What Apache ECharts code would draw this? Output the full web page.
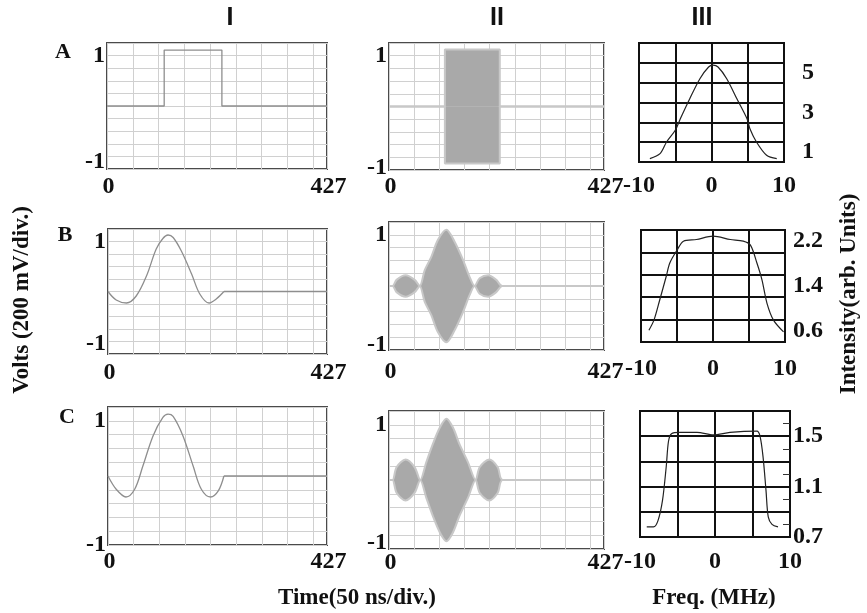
<!DOCTYPE html>
<html>
<head>
<meta charset="utf-8">
<script src="https://cdn.jsdelivr.net/npm/echarts@6/dist/echarts.min.js"></script>
<style>
  html, body { margin: 0; padding: 0; background: #fff; }
  #chart { width: 867px; height: 613px; }
</style>
</head>
<body>
<div id="chart"></div>
<script>
// tick labels
const timeTicks = [0, 427];
const voltTicks = [-1, 1];
const freqTicks = [-10, 0, 10];
const intensATicks = [1, 3, 5];
const intensBTicks = [0.6, 1.4, 2.2];
const intensCTicks = [0.7, 1.1, 1.5];

// column I: baseband pulses (sample index, volts)
const rectT = [0, 111, 111, 223, 223, 427];
const rectV = [0, 0, 1.11, 1.11, 0, 0];
const sincBT = [0, 16, 36, 55, 75, 94, 107, 117, 127, 143, 163, 179, 197, 211, 226];
const sincBV = [0, -0.17, -0.23, -0.09, 0.31, 0.85, 1.06, 1.13, 1.08, 0.81, 0.35, -0.05, -0.23, -0.15, 0];
const sincCT = [0, 16, 35, 52, 68, 88, 107, 117, 127, 146, 166, 182, 200, 215, 226];
const sincCV = [0, -0.24, -0.38, -0.24, 0.18, 0.73, 1.06, 1.12, 1.08, 0.73, 0.18, -0.24, -0.38, -0.27, 0];
// flat line after the pulse
const tailT = [226, 427];
const tailV = [0, 0];

// column II: modulated carrier, envelope (sample index, volts)
const envAT = [0, 111, 111, 220, 220, 427];
const envAV = [0, 0, 1.12, 1.12, 0, 0];
const envBT = [0, 7, 15, 33, 51, 61, 71, 84, 97, 114, 130, 147, 160, 170, 180, 197, 213, 225, 427];
const envBV = [0, 0, 0.12, 0.21, 0.12, 0, 0.31, 0.57, 0.9, 1.1, 0.87, 0.51, 0.18, 0, 0.15, 0.21, 0.12, 0, 0];
const envCT = [0, 7, 15, 33, 51, 62, 74, 87, 101, 114, 127, 140, 157, 172, 180, 199, 216, 226, 427];
const envCV = [0, 0, 0.23, 0.37, 0.23, 0, 0.32, 0.65, 0.95, 1.11, 0.95, 0.65, 0.32, 0, 0.23, 0.37, 0.23, 0, 0];

// column III: spectra (MHz, arb. units)
const specAF = [-8.5, -7.1, -6.2, -5.0, -4.3, -3.0, -1.6, -0.4, 0.2, 0.9, 2.1, 3.5, 4.9, 5.3, 6.2, 7.6, 9.0];
const specAI = [0.67, 0.92, 1.51, 2.1, 2.68, 3.69, 4.7, 5.29, 5.38, 5.29, 4.7, 3.69, 2.68, 2.18, 1.51, 0.84, 0.67];
const specBF = [-8.9, -8.2, -7.4, -6.5, -6.0, -5.0, -4.1, -2.3, 0, 2.4, 4.2, 5.2, 6.1, 6.8, 7.5, 8.4, 9.8];
const specBI = [0.61, 0.79, 1.15, 1.57, 1.81, 2.04, 2.2, 2.23, 2.29, 2.23, 2.2, 2.13, 1.81, 1.51, 1.09, 0.79, 0.58];
const specCF = [-9.1, -8.2, -7.6, -7.0, -6.5, -6.2, -5.8, -4.7, -2.4, -0.2, 2.0, 5.6, 6.0, 6.4, 6.8, 7.1, 7.6, 8.4];
const specCI = [0.78, 0.78, 0.83, 0.99, 1.26, 1.46, 1.52, 1.53, 1.53, 1.51, 1.53, 1.54, 1.5, 1.34, 1.07, 0.86, 0.8, 0.78];

const zip = (xs, ys, k = 1) => xs.map((x, i) => [x, ys[i] * k]);

const serif = '"Liberation Serif", "Times New Roman", serif';
const tickFont = { fontFamily: serif, fontWeight: 'bold', fontSize: 24, color: '#111' };

const grids = [], xAxes = [], yAxes = [], series = [];

function lineSeries(g, data, smooth, color, width) {
  series.push({ type: 'line', xAxisIndex: g, yAxisIndex: g, data: data, smooth: smooth,
    showSymbol: false, silent: true, lineStyle: { color: color, width: width } });
}

// lowShift pushes the "-1" label down a few px, as in the scanned figure
function timePanel(box, xMargin, lowShift, lines, env) {
  const g = grids.length;
  grids.push({ left: box[0], top: box[1], width: box[2], height: box[3],
    show: true, borderColor: '#4a4a4a', borderWidth: 2, backgroundColor: '#fff' });
  xAxes.push({ type: 'value', gridIndex: g, min: 0, max: 427, interval: 50,
    axisLine: { show: false }, axisTick: { show: false },
    splitLine: { show: true, lineStyle: { color: '#d0d0d0', width: 1 } },
    axisLabel: Object.assign({ customValues: timeTicks, margin: xMargin, padding: [0, 0, 0, 3] }, tickFont) });
  yAxes.push({ type: 'value', gridIndex: g, min: -1.25, max: 1.25, interval: 0.25,
    axisLine: { show: false }, axisTick: { show: false },
    splitLine: { show: true, lineStyle: { color: '#d0d0d0', width: 1 } },
    axisLabel: Object.assign({ customValues: voltTicks, margin: 2,
      formatter: v => v < 0 ? '{lo|' + v + '}' : String(v),
      rich: { lo: Object.assign({ padding: [lowShift * 2, 0, 0, 0] }, tickFont) } }, tickFont) });
  (lines || []).forEach(l => lineSeries(g, l.data, l.smooth, '#8e8e8e', 1.3));
  if (env) {
    [1, -1].forEach(sign => {
      series.push({ type: 'line', xAxisIndex: g, yAxisIndex: g, data: zip(env[0], env[1], sign),
        smooth: 0.3, showSymbol: false, silent: true,
        lineStyle: { color: '#c8c8c8', width: 2 },
        areaStyle: { color: '#a9a9a9', opacity: 1 } });
    });
  }
}

function freqPanel(box, xMargin, y, data) {
  const g = grids.length;
  grids.push({ left: box[0], top: box[1], width: box[2], height: box[3],
    show: true, borderColor: '#111', borderWidth: 2, backgroundColor: '#fff' });
  xAxes.push({ type: 'value', gridIndex: g, min: -10, max: 10, interval: 5,
    axisLine: { show: false }, axisTick: { show: false },
    splitLine: { show: true, lineStyle: { color: '#111', width: 2 } },
    axisLabel: Object.assign({ customValues: freqTicks, margin: xMargin }, tickFont) });
  yAxes.push({ type: 'value', gridIndex: g, position: 'right', min: y.min, max: y.max, interval: y.interval,
    axisLine: { show: false, onZero: false },
    axisTick: { show: !!y.minor, inside: true, length: 0 },
    minorTick: { show: !!y.minor, splitNumber: 2, length: 7, lineStyle: { color: '#333', width: 1 } },
    splitLine: { show: true, lineStyle: { color: '#111', width: 2 } },
    axisLabel: Object.assign({ customValues: y.ticks, margin: y.margin }, tickFont) });
  lineSeries(g, data, 0.3, '#222', 1.2);
}

// row A
timePanel([107, 43, 220, 126], 6, 5, [{ data: zip(rectT, rectV), smooth: false }]);
timePanel([389, 43, 215, 127], 5, 10, null, [envAT, envAV]);
freqPanel([639, 43, 145, 119], 12, { min: 0.5, max: 6.5, interval: 1, ticks: intensATicks, margin: 18 },
  zip(specAF, specAI));
// row B
timePanel([108, 229, 219, 125], 7, 2,
  [{ data: zip(sincBT, sincBV), smooth: 0.35 }, { data: zip(tailT, tailV), smooth: false }]);
timePanel([389, 222, 215, 128], 10, 8, null, [envBT, envBV]);
freqPanel([641, 230, 144, 112], 15, { min: 0.4, max: 2.4, interval: 0.4, ticks: intensBTicks, margin: 8 },
  zip(specBF, specBI));
// row C
timePanel([108, 407, 219, 138], 5, 14,
  [{ data: zip(sincCT, sincCV), smooth: 0.35 }, { data: zip(tailT, tailV), smooth: false }]);
timePanel([389, 411, 215, 138], 2, 8, null, [envCT, envCV]);
freqPanel([640, 411, 150, 126], 13, { min: 0.7, max: 1.7, interval: 0.2, ticks: intensCTicks, margin: 3, minor: true },
  zip(specCF, specCI));

function txt(text, x, y, font, rotation) {
  return { type: 'text', x: x, y: y, rotation: rotation || 0, silent: true,
    style: { text: text, x: 0, y: 0, font: font, fill: '#111', align: 'center', verticalAlign: 'middle' } };
}
const headFont = 'bold 25px "Liberation Sans", Arial, sans-serif';
const rowFont = 'bold 22px ' + serif;
const titleFont = 'bold 23px ' + serif;

const chart = echarts.init(document.getElementById('chart'), null, { renderer: 'canvas' });
chart.setOption({
  animation: false,
  backgroundColor: '#fff',
  grid: grids,
  xAxis: xAxes,
  yAxis: yAxes,
  series: series,
  graphic: [
    txt('I', 230, 18, headFont),
    txt('II', 497, 18, headFont),
    txt('III', 702, 18, headFont),
    txt('A', 63, 52, rowFont),
    txt('B', 65, 235, rowFont),
    txt('C', 67, 417, rowFont),
    txt('Volts (200 mV/div.)', 22, 300, titleFont, Math.PI / 2),
    txt('Intensity(arb. Units)', 849, 294, titleFont, Math.PI / 2),
    txt('Time(50 ns/div.)', 357, 598, titleFont),
    txt('Freq. (MHz)', 714, 598, titleFont)
  ]
});
</script>
</body>
</html>
